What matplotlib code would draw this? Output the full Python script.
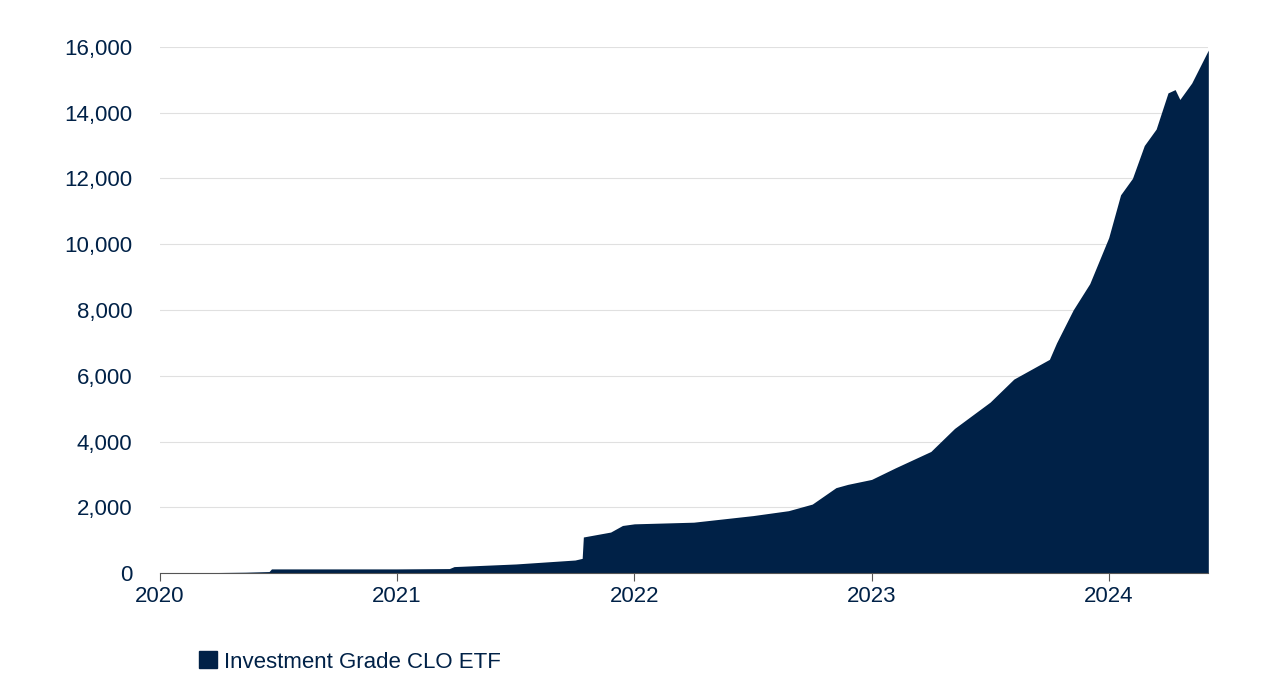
import matplotlib
matplotlib.use("Agg")
import matplotlib.pyplot as plt
from matplotlib.ticker import FuncFormatter
from matplotlib.patches import Patch

dates = [2020.0, 2020.36, 2020.46, 2020.47, 2021.0, 2021.22, 2021.24, 2021.5, 2021.75, 2021.78, 2021.785,
         2021.9, 2021.95, 2022.0, 2022.25, 2022.5, 2022.65, 2022.75, 2022.85, 2022.9, 2023.0,
         2023.1, 2023.25, 2023.35, 2023.5, 2023.6, 2023.7, 2023.75, 2023.78, 2023.85, 2023.92,
         2024.0, 2024.05, 2024.1, 2024.15, 2024.2, 2024.25, 2024.28, 2024.3, 2024.35, 2024.42]
values = [0, 30, 50, 130, 130, 140, 200, 280, 400, 450, 1100,
          1250, 1450, 1500, 1550, 1750, 1900, 2100, 2600, 2700, 2850,
          3200, 3700, 4400, 5200, 5900, 6300, 6500, 7000, 8000, 8800,
          10200, 11500, 12000, 13000, 13500, 14600, 14700, 14400, 14900, 15900]
year_ticks = [2020, 2021, 2022, 2023, 2024]
series_name = "Investment Grade CLO ETF"

plt.rcParams["font.family"] = ["Liberation Sans Narrow", "Liberation Sans", "DejaVu Sans"]
navy = "#002147"
fig = plt.figure(figsize=(12.8, 6.99), dpi=100)
ax = fig.add_axes([0.125, 0.18, 0.819, 0.753])
ax.fill_between(dates, values, 0, color=navy, lw=0)
ax.set_xlim(2020, dates[-1])
ax.set_ylim(0, 16000)
ax.set_yticks(range(0, 16001, 2000))
ax.yaxis.set_major_formatter(FuncFormatter(lambda v, p: f"{int(v):,}"))
ax.set_xticks(year_ticks)
ax.set_xticklabels([str(y) for y in year_ticks])
ax.grid(axis="y", color="#e0e0e0", lw=0.8)
ax.set_axisbelow(True)
for s in ["top", "right", "left"]:
    ax.spines[s].set_visible(False)
ax.spines["bottom"].set_color("#555555")
ax.tick_params(axis="y", length=0, labelsize=16, colors=navy, pad=20)
ax.tick_params(axis="x", length=6, direction="out", labelsize=16, colors=navy, color="#555555")
for t in ax.get_xticklabels() + ax.get_yticklabels():
    t.set_color(navy)
fig.legend(handles=[Patch(color=navy, label=series_name)], loc="center left",
           bbox_to_anchor=(0.14, 0.053), frameon=False, fontsize=16,
           handlelength=0.8, handleheight=0.8, handletextpad=0.3, labelcolor=navy)
fig.savefig("out.png", dpi=100)
